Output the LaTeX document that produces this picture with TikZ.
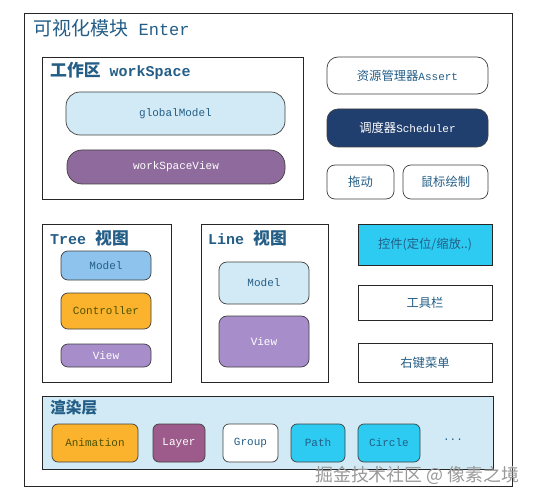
\documentclass[tikz,border=0pt]{standalone}
\usepackage{fontspec}
\setmainfont{Liberation Mono}
\newfontfamily\cjk[Scale=1.12]{Noto Sans CJK SC}
\usepackage{tikz}
\usetikzlibrary{positioning}
\newcommand{\zh}[1]{{\cjk #1}}
\definecolor{txtblue}{HTML}{245E87}
\definecolor{paleblue}{HTML}{D2EAF5}
\definecolor{wsviolet}{HTML}{8F6A9C}
\definecolor{navy}{HTML}{213F6E}
\definecolor{skyblue}{HTML}{8DC3EC}
\definecolor{amber}{HTML}{FBB32E}
\definecolor{lavender}{HTML}{A78ECB}
\definecolor{cyanfill}{HTML}{2DCBF2}
\definecolor{plum}{HTML}{9C5B8A}
\definecolor{olivetxt}{HTML}{4E5200}
\tikzset{
  frame/.style={draw=black!85, line width=0.8pt, fill=white, inner sep=0pt},
  ttl/.style={font=\fontsize{15}{18}\selectfont\bfseries, text=txtblue, anchor=west, inner sep=0pt},
  rbox/.style={draw=black!75, line width=0.7pt, rounded corners=#1, inner sep=0pt, text=txtblue, font=\fontsize{11}{13}\selectfont},
  rbox/.default=7pt,
  sbox/.style={draw=black!85, line width=0.7pt, inner sep=0pt, text=txtblue, font=\fontsize{11}{13}\selectfont},
}

\begin{document}
\begin{tikzpicture}[x=1pt,y=-1pt]
\newcommand{\blk}[6]{\node[#2, minimum width=#4pt, minimum height=#5pt] (#1) at #3 {#6};}
\useasboundingbox (0,0) rectangle (536,500);
% outer module
\blk{enter}{frame}{(268,249.5)}{488}{473}{}
\node[ttl, font=\fontsize{17}{20}\selectfont] (entertitle) at (33,28) {\zh{可视化模块} Enter};
% workspace
\blk{ws}{frame}{(172.5,128)}{261}{142}{}
\node[ttl] (wstitle) at (50,71) {\zh{工作区} workSpace};
\blk{gmodel}{rbox=14pt, fill=paleblue}{(175.5,113.5)}{219}{43}{globalModel}
\blk{wsview}{rbox=15pt, fill=wsviolet, text=white}{(176,167)}{218}{34}{workSpaceView}
% right column top
\blk{assert}{rbox=11pt, fill=white}{(407.5,75.5)}{161}{37}{\zh{资源管理器}Assert}
\blk{sched}{rbox=11pt, fill=navy, text=white}{(407.5,128)}{161}{38}{\zh{调度器}Scheduler}
\blk{drag}{rbox=8pt, fill=white}{(360.5,182)}{67}{34}{\zh{拖动}}
\blk{mdraw}{rbox=8pt, fill=white}{(445.5,182)}{85}{34}{\zh{鼠标绘制}}
% tree view
\blk{tree}{frame}{(106.5,303)}{129}{158}{}
\node[ttl] (treetitle) at (50,238) {Tree \zh{视图}};
\blk{tmodel}{rbox, fill=skyblue}{(106,265.5)}{90}{29}{Model}
\blk{tctrl}{rbox, fill=amber, text=olivetxt}{(106,311)}{90}{36}{Controller}
\blk{tview}{rbox, fill=lavender, text=white}{(106,355.5)}{90}{23}{View}
% line view
\blk{line}{frame}{(264.5,303)}{127}{158}{}
\node[ttl] (linetitle) at (208,238) {Line \zh{视图}};
\blk{lmodel}{rbox=8pt, fill=paleblue}{(264,283)}{90}{42}{Model}
\blk{lview}{rbox=8pt, fill=lavender, text=white}{(264,341.5)}{90}{51}{View}
% right column bottom
\blk{ctrl}{sbox, fill=cyanfill}{(425,244.5)}{134}{41}{\zh{控件(定位/缩放..)}}
\blk{toolbar}{sbox, fill=white}{(425,302.5)}{134}{35}{\zh{工具栏}}
\blk{ctxmenu}{sbox, fill=white}{(425,362.5)}{134}{39}{\zh{右键菜单}}
% render layer
\blk{render}{frame, fill=paleblue}{(267.5,432.5)}{451}{73}{}
\node[ttl, font=\fontsize{14}{17}\selectfont\bfseries] (rendertitle) at (50,408) {\zh{渲染层}};
\blk{anim}{rbox=6pt, fill=amber, text=olivetxt}{(95,443)}{86}{38}{Animation}
\blk{layer}{rbox=6pt, fill=plum, text=white}{(179,443)}{52}{38}{Layer}
\blk{group}{rbox=6pt, fill=white}{(250.5,443)}{55}{38}{Group}
\blk{pathn}{rbox=6pt, fill=cyanfill}{(318,443)}{54}{38}{Path}
\blk{circ}{rbox=6pt, fill=cyanfill}{(389,443)}{62}{38}{Circle}
\node[text=txtblue, font=\fontsize{11}{13}\selectfont] (dots) at (453,440) {...};
\node[text=black!40, font=\fontsize{16}{19}\selectfont, anchor=west, inner sep=0pt] (mark) at (315,475) {\zh{掘金技术社区 @ 像素之境}};
\end{tikzpicture}
\end{document}
